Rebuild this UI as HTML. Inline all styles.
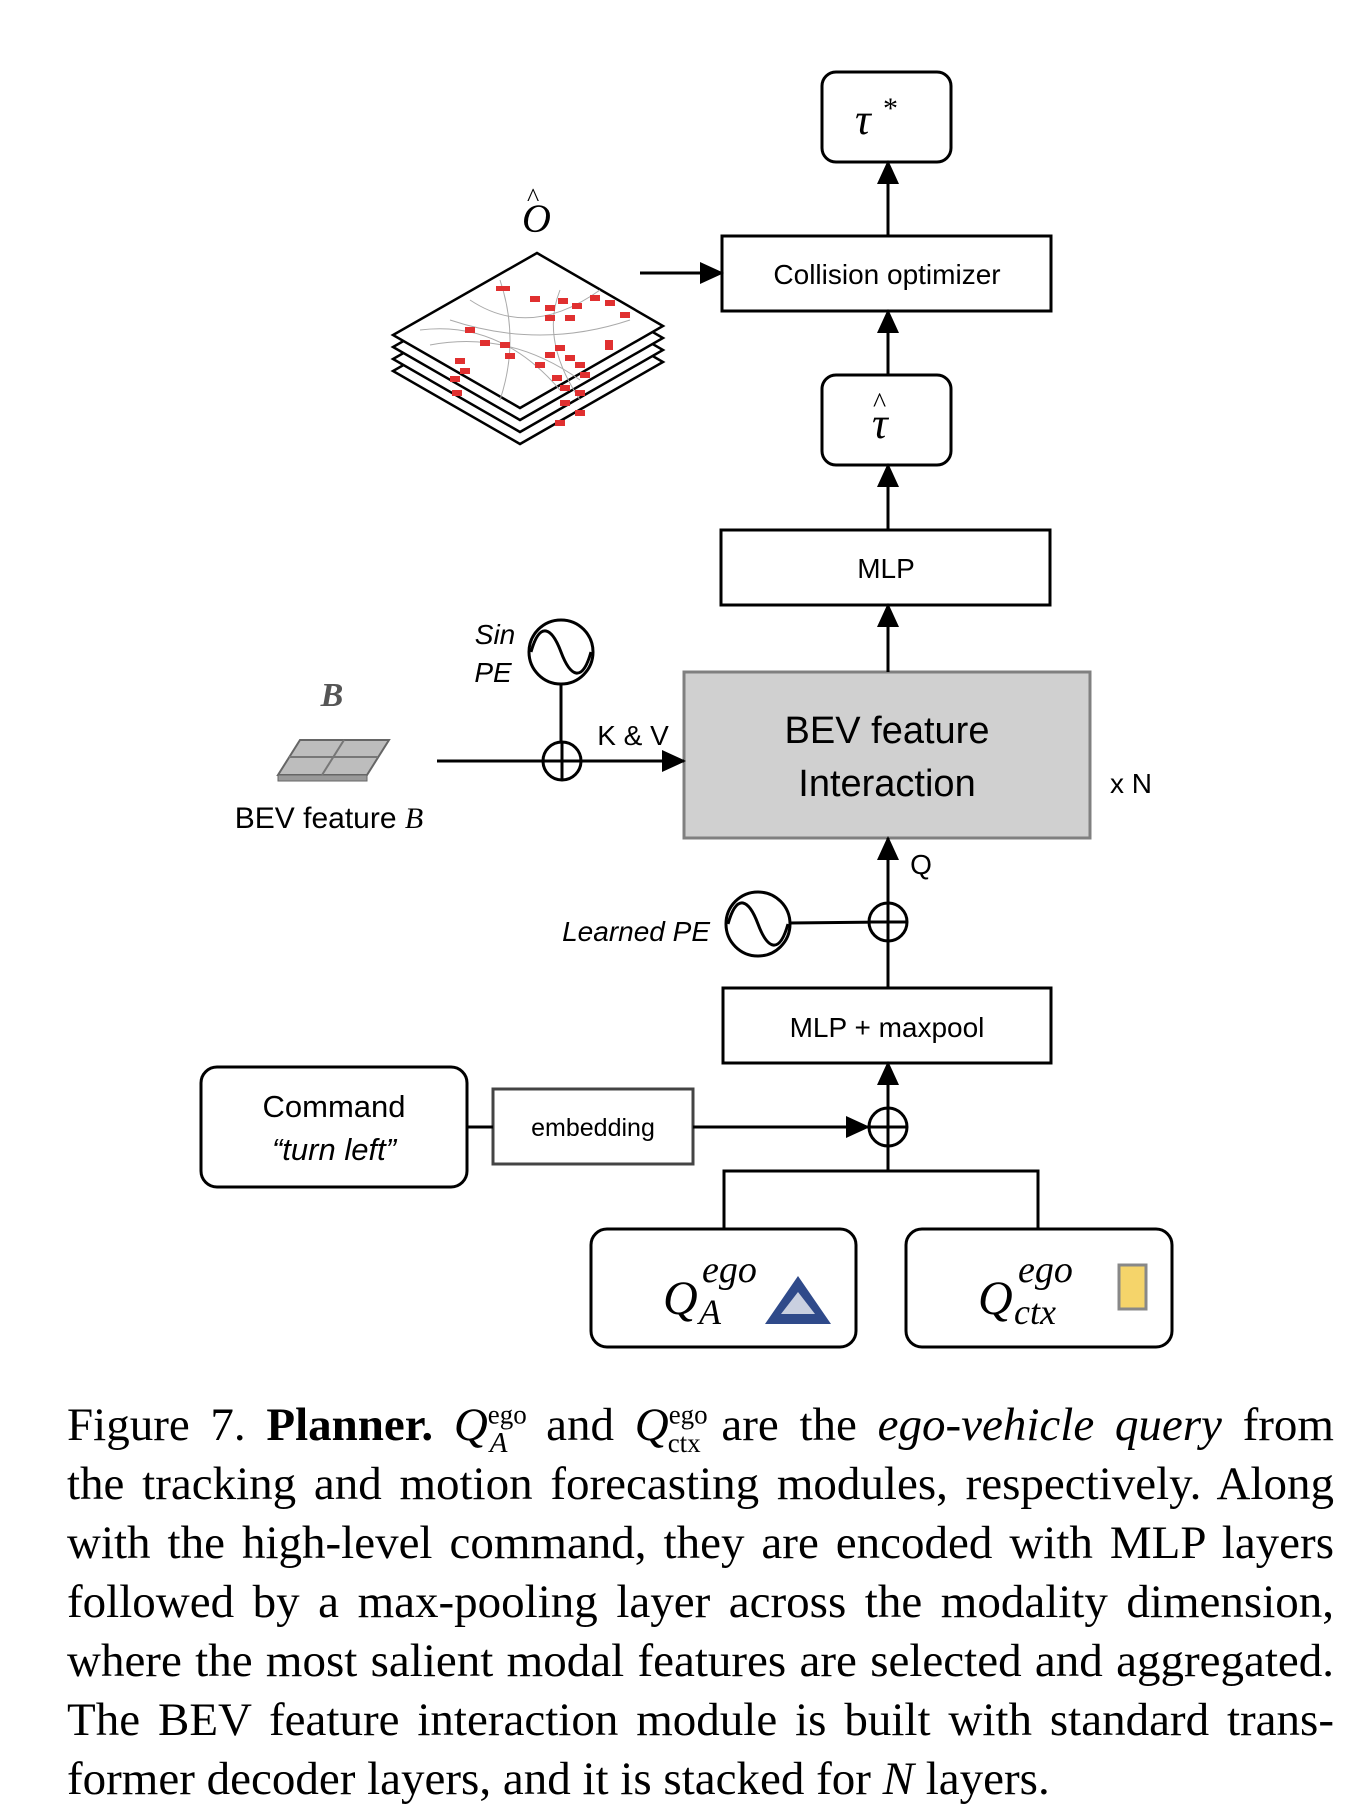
<!DOCTYPE html>
<html><head><meta charset="utf-8"><style>
body{margin:0;background:#fff;}
.cap{position:absolute;left:67px;width:1267px;font-family:"Liberation Serif",serif;font-size:47px;color:#000;white-space:nowrap;}
.j{text-align:justify;text-align-last:justify;}
</style></head><body>
<div style="position:relative;width:1360px;height:1818px;overflow:hidden;">
<svg width="1360" height="1400" style="position:absolute;left:0;top:0" font-family="Liberation Sans, sans-serif">
<defs>
<marker id="b" markerWidth="24" markerHeight="22" refX="22" refY="11" orient="auto" markerUnits="userSpaceOnUse"><path d="M0,0 L24,11 L0,22z" fill="#000"/></marker></defs>
<g transform="translate(-5,0)">
<g stroke="#000" stroke-width="3" fill="none">
<rect x="827" y="72" width="129" height="90" rx="14" fill="#fff"/>
<rect x="727" y="236" width="329" height="75" fill="#fff"/>
<rect x="827" y="375" width="129" height="90" rx="14" fill="#fff"/>
<rect x="726" y="530" width="329" height="75" fill="#fff"/>
<rect x="689" y="672" width="406" height="166" fill="#d0d0d0" stroke="#808080"/>
<rect x="728" y="988" width="328" height="75" fill="#fff"/>
<rect x="596" y="1229" width="265" height="118" rx="16" fill="#fff"/>
<rect x="911" y="1229" width="266" height="118" rx="16" fill="#fff"/>
<line x1="893" y1="236" x2="893" y2="162" marker-end="url(#b)"/>
<line x1="893" y1="375" x2="893" y2="311" marker-end="url(#b)"/>
<line x1="893" y1="530" x2="893" y2="465" marker-end="url(#b)"/>
<line x1="893" y1="672" x2="893" y2="605" marker-end="url(#b)"/>
<line x1="893" y1="988" x2="893" y2="838" marker-end="url(#b)"/>
<line x1="893" y1="1171" x2="893" y2="1063" marker-end="url(#b)"/>
<line x1="794" y1="923" x2="893" y2="922"/>
<polyline points="729,1229 729,1171 1043,1171 1043,1229"/>
<circle cx="893" cy="922" r="19" fill="#fff"/><line x1="874" y1="922" x2="912" y2="922"/><line x1="893" y1="903" x2="893" y2="941"/>
<circle cx="893" cy="1127" r="19" fill="#fff"/><line x1="874" y1="1127" x2="912" y2="1127"/><line x1="893" y1="1108" x2="893" y2="1146"/>
<circle cx="763" cy="924" r="32" fill="#fff"/><path d="M733,924 C742,892 754,900 763,924 C772,948 784,956 793,924"/>
</g>
<polygon points="770,1324 803,1276 836,1324" fill="#2f4a8a"/><polygon points="786,1314 803,1292 820,1314" fill="#c9d0e0"/>
<rect x="1124" y="1265" width="27" height="44" fill="#f5d46a" stroke="#888" stroke-width="3"/>
<g font-size="28" text-anchor="middle" fill="#000">
<text x="892" y="284">Collision optimizer</text>
<text x="891" y="578">MLP</text>
<text x="892" y="1037">MLP + maxpool</text>
<text x="892" y="743" font-size="38">BEV feature</text>
<text x="892" y="796" font-size="38">Interaction</text>
<text x="1136" y="793">x N</text>
<text x="926" y="874">Q</text>
</g>
<g font-family="Liberation Serif, serif" font-style="italic" fill="#000">
<text x="860" y="134" font-size="44">τ</text><text x="888" y="118" font-size="30" font-style="normal">*</text>
<text x="877" y="438" font-size="44">τ</text><text x="878" y="412" font-size="28" font-style="normal">^</text>
<text x="668" y="1314" font-size="48">Q</text><text x="707" y="1282" font-size="38">ego</text><text x="704" y="1324" font-size="36">A</text>
<text x="983" y="1314" font-size="48">Q</text><text x="1023" y="1282" font-size="38">ego</text><text x="1019" y="1324" font-size="36">ctx</text>
</g>
</g>
<g stroke="#000" stroke-width="3" fill="none">
<rect x="201" y="1067" width="266" height="120" rx="16" fill="#fff"/>
<rect x="493" y="1089" width="200" height="75" stroke="#444" fill="#fff"/>
<line x1="640" y1="273" x2="722" y2="273" marker-end="url(#b)"/>
<line x1="437" y1="761" x2="684" y2="761" marker-end="url(#b)"/>
<line x1="561" y1="684" x2="561" y2="761"/>
<line x1="467" y1="1127" x2="493" y2="1127"/>
<line x1="693" y1="1127" x2="868" y2="1127" marker-end="url(#b)"/>
<circle cx="562" cy="761" r="19" fill="#fff"/><line x1="543" y1="761" x2="581" y2="761"/><line x1="562" y1="742" x2="562" y2="780"/>
<circle cx="561" cy="652" r="32" fill="#fff"/><path d="M531,652 C540,620 552,628 561,652 C570,676 582,684 591,652"/>
</g>
<polygon points="300,740 389,740 367,775 278,775" fill="#bdbdbd" stroke="#666" stroke-width="2"/>
<polygon points="278,775 367,775 367,781 278,781" fill="#999" stroke="#666" stroke-width="1"/>
<line x1="344" y1="740" x2="322" y2="775" stroke="#777" stroke-width="2"/>
<line x1="289" y1="757" x2="378" y2="757" stroke="#777" stroke-width="2"/>
<g stroke="#000" stroke-width="2.5" fill="#fff">
<polygon points="537,289 663,362 520,444 393,371"/>
<polygon points="537,277 663,350 520,432 393,359"/>
<polygon points="537,265 663,338 520,420 393,347"/>
<polygon points="537,253 663,326 520,408 393,335"/>
</g>
<g stroke="#aaa" stroke-width="1" fill="none">
<path d="M420,330 Q500,320 560,390"/><path d="M430,345 Q510,330 580,380"/><path d="M470,300 Q530,340 600,290"/><path d="M450,320 Q540,350 630,320"/><path d="M500,280 Q520,340 500,400"/><path d="M560,290 Q540,340 580,400"/>
</g>
<g fill="#e03030">
<rect x="496" y="286" width="14" height="5"/><rect x="530" y="296" width="10" height="6"/><rect x="545" y="305" width="10" height="6"/><rect x="558" y="298" width="10" height="6"/><rect x="572" y="303" width="10" height="6"/><rect x="590" y="295" width="10" height="6"/><rect x="605" y="300" width="10" height="6"/><rect x="620" y="312" width="10" height="6"/><rect x="565" y="315" width="10" height="6"/><rect x="545" y="315" width="10" height="6"/><rect x="465" y="327" width="10" height="6"/><rect x="480" y="340" width="10" height="6"/><rect x="500" y="342" width="10" height="6"/><rect x="505" y="353" width="10" height="6"/><rect x="545" y="352" width="10" height="6"/><rect x="555" y="345" width="10" height="6"/><rect x="565" y="355" width="10" height="6"/><rect x="575" y="362" width="10" height="6"/><rect x="580" y="372" width="10" height="6"/><rect x="455" y="358" width="10" height="6"/><rect x="460" y="368" width="10" height="6"/><rect x="535" y="362" width="10" height="6"/><rect x="552" y="375" width="10" height="6"/><rect x="560" y="385" width="10" height="6"/><rect x="575" y="390" width="10" height="6"/><rect x="450" y="376" width="10" height="6"/><rect x="452" y="390" width="10" height="6"/><rect x="560" y="400" width="10" height="6"/><rect x="575" y="410" width="10" height="6"/><rect x="555" y="420" width="10" height="6"/><rect x="605" y="340" width="8" height="10"/>
</g>
<g font-size="28" text-anchor="middle" fill="#000">
<text x="593" y="1136" font-size="25">embedding</text>
<text x="334" y="1117" font-size="31">Command</text>
<text x="334" y="1160" font-size="31" font-style="italic">“turn left”</text>
<text x="633" y="745">K &amp; V</text>
<text x="710" y="941" text-anchor="end" font-style="italic">Learned PE</text>
<text x="495" y="644" font-style="italic">Sin</text>
<text x="493" y="682" font-style="italic">PE</text>
<text x="329" y="828" font-size="30">BEV feature <tspan font-family="Liberation Serif, serif" font-style="italic">B</tspan></text>
<text x="332" y="706" font-size="34" font-family="Liberation Serif, serif" font-style="italic" font-weight="bold" fill="#555">B</text>
</g>
<g font-family="Liberation Serif, serif" font-style="italic" fill="#000">
<text x="522" y="232" font-size="40">O</text><text x="527" y="206" font-size="26" font-style="normal">^</text>
</g>
</svg>
<div class="cap j" style="top:1398px">Figure 7. <b>Planner.</b> <i>Q</i><sup style="font-size:27px">ego</sup><span style="margin-left:-37px;position:relative;top:12px;font-size:29px;font-style:italic">A</span><span style="display:inline-block;width:18px"></span> and <i>Q</i><sup style="font-size:27px">ego</sup><span style="margin-left:-40px;position:relative;top:12px;font-size:27px">ctx</span> are the <i>ego-vehicle query</i> from</div>
<div class="cap j" style="top:1457px">the tracking and motion forecasting modules, respectively. Along</div>
<div class="cap j" style="top:1516px">with the high-level command, they are encoded with MLP layers</div>
<div class="cap j" style="top:1575px">followed by a max-pooling layer across the modality dimension,</div>
<div class="cap j" style="top:1634px">where the most salient modal features are selected and aggregated.</div>
<div class="cap j" style="top:1693px">The BEV feature interaction module is built with standard trans-</div>
<div class="cap" style="top:1752px">former decoder layers, and it is stacked for <i>N</i> layers.</div>
</div>
</body></html>
